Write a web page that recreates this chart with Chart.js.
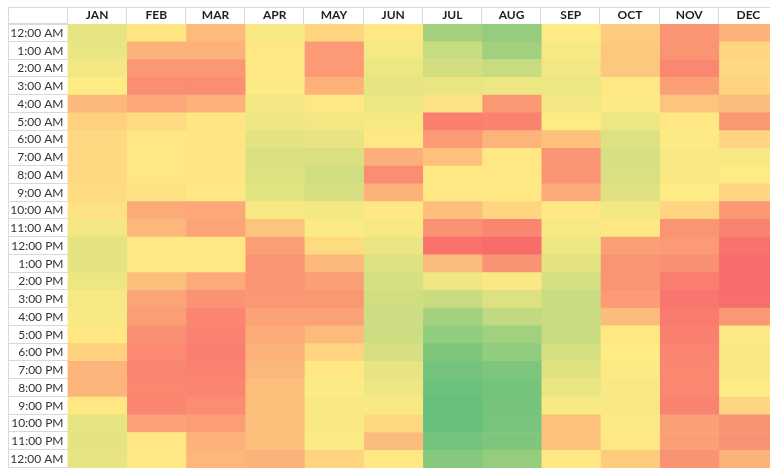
<!DOCTYPE html>
<html>
<head>
<meta charset="utf-8">
<script src="https://cdn.jsdelivr.net/npm/chart.js@4"></script>
<style>
  html, body { margin: 0; padding: 0; background: #fff; overflow: hidden; }
  #heat { display: block; }
</style>
</head>
<body>
<canvas id="heat" width="778" height="468"></canvas>
<script>
// Row and column labels
const hours = ['12:00 AM', '1:00 AM', '2:00 AM', '3:00 AM', '4:00 AM', '5:00 AM', '6:00 AM',
    '7:00 AM', '8:00 AM', '9:00 AM', '10:00 AM', '11:00 AM', '12:00 PM', '1:00 PM', '2:00 PM',
    '3:00 PM', '4:00 PM', '5:00 PM', '6:00 PM', '7:00 PM', '8:00 PM', '9:00 PM', '10:00 PM',
    '11:00 PM', '12:00 AM'];
const months = ['JAN', 'FEB', 'MAR', 'APR', 'MAY', 'JUN', 'JUL', 'AUG', 'SEP', 'OCT', 'NOV', 'DEC'];

// Cell values per month, one per hour (0 = green, 50 = yellow, 100 = red)
const jan = [42, 43, 46, 50, 70, 60, 57, 57, 57, 56, 54, 46, 41, 41, 44, 47, 48, 51, 60, 71, 71, 51, 42, 41, 42];
const feb = [52, 72, 82, 86, 76, 56, 51, 51, 51, 54, 75, 70, 51, 51, 67, 77, 80, 85, 87, 89, 88, 89, 78, 51, 51];
const mar = [69, 72, 82, 86, 72, 52, 52, 52, 52, 51, 76, 77, 51, 51, 75, 84, 89, 90, 92, 90, 89, 86, 80, 72, 70];
const apr = [48, 51, 51, 49, 46, 45, 41, 38, 39, 41, 48, 65, 79, 83, 83, 82, 78, 75, 72, 70, 67, 67, 67, 67, 72];
const may = [59, 81, 81, 72, 51, 46, 42, 38, 35, 37, 46, 49, 56, 70, 79, 82, 78, 69, 59, 51, 49, 48, 48, 49, 59];
const jun = [51, 47, 44, 42, 44, 47, 51, 73, 86, 72, 51, 47, 43, 39, 37, 35, 34, 34, 37, 42, 44, 48, 57, 68, 51];
const jul = [21, 32, 36, 43, 54, 91, 81, 66, 51, 51, 67, 84, 97, 68, 45, 33, 21, 15, 9, 5, 3, 1, 1, 5, 11];
const aug = [16, 20, 32, 44, 82, 90, 71, 51, 51, 51, 58, 89, 99, 84, 48, 39, 30, 20, 15, 9, 6, 6, 7, 9, 16];
const sep = [50, 47, 46, 44, 46, 50, 66, 83, 83, 75, 51, 47, 44, 41, 37, 33, 33, 33, 37, 40, 43, 48, 66, 66, 51];
const oct = [62, 64, 64, 51, 49, 44, 39, 37, 38, 40, 46, 51, 79, 83, 83, 81, 68, 51, 50, 49, 48, 48, 49, 51, 62];
const nov = [83, 83, 88, 79, 65, 51, 49, 48, 48, 50, 59, 83, 81, 85, 92, 95, 93, 91, 89, 88, 88, 90, 79, 79, 84];
const dec = [72, 59, 57, 59, 68, 82, 59, 48, 50, 59, 82, 90, 96, 99, 99, 98, 82, 49, 48, 48, 50, 59, 84, 84, 72];

const monthValues = [jan, feb, mar, apr, may, jun, jul, aug, sep, oct, nov, dec];

// Excel style 3-colour scale: green -> yellow -> red
const GREEN = [99, 190, 123];
const YELLOW = [255, 235, 132];
const RED = [248, 105, 107];

function scaleColor(v) {
    let a, b, t;
    if (v <= 50) { a = GREEN; b = YELLOW; t = v / 50; }
    else { a = YELLOW; b = RED; t = (v - 50) / 50; }
    const c = a.map((x, i) => Math.round(x + (b[i] - x) * t));
    return 'rgb(' + c.join(',') + ')';
}

const datasets = months.map((m, i) => ({
    label: m,
    data: monthValues[i].map(() => 1),
    backgroundColor: monthValues[i].map(scaleColor),
    borderWidth: 0,
    barPercentage: 1,
    categoryPercentage: 1
}));

// Spreadsheet style borders for the header row and label column
const tableLines = {
    id: 'tableLines',
    afterDraw(chart) {
        const ctx = chart.ctx;
        const area = chart.chartArea;
        const x = chart.scales.x;
        const y = chart.scales.y;
        const head = chart.scales.months;
        const left = chart.options.layout.padding.left;
        ctx.save();
        ctx.strokeStyle = '#d9d9d9';
        ctx.lineWidth = 1;
        ctx.beginPath();
        // top and left border
        ctx.moveTo(left, head.top + 0.5);
        ctx.lineTo(chart.width, head.top + 0.5);
        ctx.moveTo(left + 0.5, head.top);
        ctx.lineTo(left + 0.5, chart.height);
        // header bottom
        ctx.moveTo(left, area.top + 0.5);
        ctx.lineTo(area.left, area.top + 0.5);
        // column separators in the header
        for (let i = 0; i <= months.length; i++) {
            const px = Math.round(x.getPixelForValue(i)) - 0.5;
            ctx.moveTo(px, head.top);
            ctx.lineTo(px, area.top);
        }
        // row separators in the label column
        for (let i = 0; i <= hours.length; i++) {
            const py = Math.round(y.getPixelForValue(i - 0.5)) - 0.5;
            ctx.moveTo(left, py);
            ctx.lineTo(area.left, py);
        }
        ctx.stroke();
        ctx.restore();
    }
};

Chart.defaults.font.family = 'Lato, "Liberation Sans", sans-serif';

new Chart(document.getElementById('heat'), {
    type: 'bar',
    data: { labels: hours, datasets: datasets },
    options: {
        indexAxis: 'y',
        responsive: false,
        animation: false,
        layout: { padding: { left: 8, top: 7, right: 0, bottom: 0 } },
        plugins: {
            legend: { display: false },
            tooltip: { enabled: false }
        },
        scales: {
            x: {
                stacked: true,
                min: 0,
                max: months.length,
                display: false
            },
            months: {
                axis: 'x',
                type: 'category',
                labels: months,
                position: 'top',
                offset: true,
                grid: { display: false, drawTicks: false },
                border: { display: false },
                ticks: {
                    color: '#1f1f1f',
                    padding: 2,
                    font: { size: 12, weight: 'bold' }
                },
                afterFit(scale) {
                    scale.height = 17;
                    scale.paddingLeft = 0;
                    scale.paddingRight = 0;
                }
            },
            y: {
                stacked: true,
                grid: { display: false, drawTicks: false },
                border: { display: false },
                ticks: {
                    color: '#333',
                    padding: 4,
                    autoSkip: false,
                    font: { size: 12 }
                },
                afterFit(scale) {
                    scale.width = 59.5;
                    scale.paddingTop = 0;
                    scale.paddingBottom = 0;
                }
            }
        }
    },
    plugins: [tableLines]
});
</script>
</body>
</html>
